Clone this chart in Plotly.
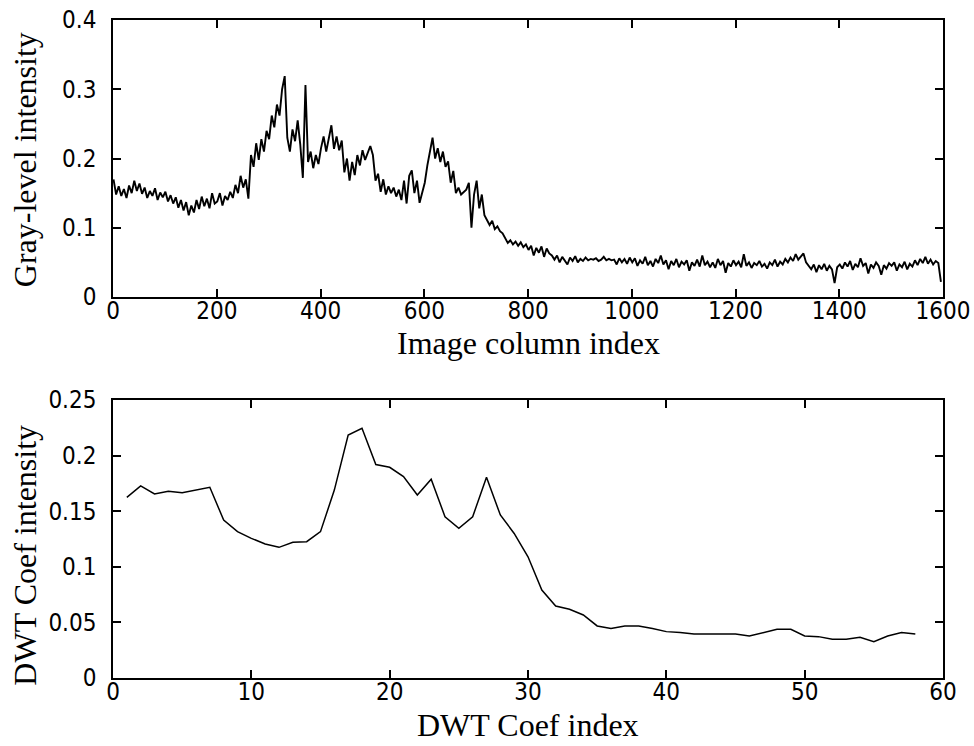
import plotly.graph_objects as go

# ---------------- data ----------------
col_index = list(range(1, 1601, 5))
gray_level = [
    0.170, 0.148, 0.160, 0.146, 0.156, 0.143, 0.161, 0.150, 0.168, 0.153, 0.164, 0.149, 0.158, 0.143, 0.153, 0.146, 0.157, 0.140, 0.151, 0.144,
    0.152, 0.138, 0.147, 0.135, 0.144, 0.129, 0.140, 0.125, 0.137, 0.118, 0.132, 0.122, 0.140, 0.127, 0.145, 0.131, 0.142, 0.128, 0.150, 0.135,
    0.138, 0.150, 0.132, 0.146, 0.140, 0.152, 0.143, 0.162, 0.150, 0.175, 0.158, 0.170, 0.142, 0.205, 0.188, 0.222, 0.198, 0.228, 0.210, 0.240,
    0.228, 0.262, 0.245, 0.278, 0.262, 0.300, 0.319, 0.230, 0.210, 0.242, 0.225, 0.255, 0.220, 0.172, 0.306, 0.195, 0.210, 0.186, 0.205, 0.192,
    0.215, 0.232, 0.210, 0.228, 0.248, 0.214, 0.232, 0.212, 0.226, 0.180, 0.200, 0.168, 0.195, 0.176, 0.205, 0.190, 0.212, 0.198, 0.208, 0.218,
    0.205, 0.168, 0.178, 0.152, 0.170, 0.148, 0.160, 0.150, 0.158, 0.145, 0.155, 0.140, 0.168, 0.135, 0.175, 0.183, 0.150, 0.168, 0.136, 0.152,
    0.165, 0.190, 0.212, 0.230, 0.200, 0.215, 0.195, 0.210, 0.188, 0.196, 0.165, 0.182, 0.150, 0.158, 0.148, 0.152, 0.155, 0.165, 0.100, 0.148,
    0.168, 0.128, 0.148, 0.118, 0.112, 0.104, 0.110, 0.098, 0.102, 0.095, 0.092, 0.084, 0.078, 0.082, 0.076, 0.080, 0.074, 0.079, 0.072, 0.076,
    0.068, 0.074, 0.060, 0.071, 0.064, 0.073, 0.058, 0.070, 0.063, 0.060, 0.054, 0.060, 0.050, 0.058, 0.053, 0.047, 0.057, 0.052, 0.059, 0.050,
    0.055, 0.052, 0.057, 0.053, 0.055, 0.054, 0.056, 0.052, 0.054, 0.058, 0.053, 0.055, 0.053, 0.054, 0.047, 0.056, 0.050, 0.055, 0.048, 0.057,
    0.050, 0.056, 0.045, 0.053, 0.048, 0.058, 0.046, 0.052, 0.044, 0.055, 0.049, 0.060, 0.047, 0.053, 0.040, 0.052, 0.046, 0.055, 0.043, 0.051,
    0.047, 0.053, 0.038, 0.050, 0.045, 0.054, 0.044, 0.060, 0.046, 0.051, 0.043, 0.050, 0.042, 0.055, 0.046, 0.052, 0.035, 0.049, 0.044, 0.053,
    0.046, 0.051, 0.043, 0.062, 0.045, 0.050, 0.042, 0.049, 0.046, 0.052, 0.044, 0.048, 0.041, 0.050, 0.046, 0.054, 0.044, 0.051, 0.047, 0.055,
    0.050, 0.057, 0.052, 0.062, 0.054, 0.058, 0.063, 0.050, 0.045, 0.040, 0.047, 0.036, 0.046, 0.040, 0.048, 0.038, 0.045, 0.040, 0.020, 0.043,
    0.047, 0.041, 0.050, 0.044, 0.052, 0.039, 0.048, 0.043, 0.056, 0.045, 0.049, 0.034, 0.047, 0.042, 0.050, 0.045, 0.032, 0.046, 0.041, 0.049,
    0.045, 0.050, 0.038, 0.047, 0.043, 0.051, 0.040, 0.048, 0.044, 0.053, 0.046, 0.055, 0.049, 0.058, 0.048, 0.054, 0.047, 0.052, 0.049, 0.022,
]

# Bottom panel: DWT coefficients
dwt_index = list(range(1, 59))
dwt_coef = [
    0.1625, 0.1727, 0.1655, 0.1680, 0.1667, 0.1690, 0.1715, 0.1420, 0.1316, 0.1256,
    0.1205, 0.1175, 0.1220, 0.1226, 0.1316, 0.1690, 0.2185, 0.2245, 0.1920, 0.1895,
    0.1811, 0.1646, 0.1787, 0.1450, 0.1346, 0.1450, 0.1805, 0.1466, 0.1300, 0.1090,
    0.0791, 0.0647, 0.0618, 0.0567, 0.0468, 0.0446, 0.0468, 0.0468, 0.0446, 0.0417,
    0.0410, 0.0396, 0.0396, 0.0396, 0.0396, 0.0378, 0.0408, 0.0438, 0.0438, 0.0378,
    0.0372, 0.0348, 0.0348, 0.0366, 0.0327, 0.0378, 0.0408, 0.0396,
]

top_xticks = [0, 200, 400, 600, 800, 1000, 1200, 1400, 1600]
top_yticks = [0, 0.1, 0.2, 0.3, 0.4]
top_ytext = ["0", "0.1", "0.2", "0.3", "0.4"]
bot_xticks = [0, 10, 20, 30, 40, 50, 60]
bot_yticks = [0, 0.05, 0.1, 0.15, 0.2, 0.25]
bot_ytext = ["0", "0.05", "0.1", "0.15", "0.2", "0.25"]

titles = {
    "top_x": "Image column index",
    "top_y": "Gray-level intensity",
    "bot_x": "DWT Coef index",
    "bot_y": "DWT Coef intensity",
}

# ---------------- figure ----------------
TICKFONT = dict(family="Liberation Sans Narrow, DejaVu Sans Condensed, Arial, sans-serif", size=24, color="black")
TITLEFONT = dict(family="Liberation Serif, Times New Roman, serif", size=32, color="black")

fig = go.Figure()
fig.add_trace(go.Scatter(x=col_index, y=gray_level, mode="lines",
                         line=dict(color="black", width=1.9), xaxis="x", yaxis="y", showlegend=False))
fig.add_trace(go.Scatter(x=dwt_index, y=dwt_coef, mode="lines",
                         line=dict(color="black", width=1.5), xaxis="x2", yaxis="y2", showlegend=False))

axis_common = dict(showline=True, linecolor="black", linewidth=1.5, mirror="ticks",
                   ticks="inside", ticklen=8, tickwidth=1.5, tickcolor="black",
                   showgrid=False, zeroline=False, tickfont=TICKFONT, automargin=False)

fig.update_layout(
    width=974, height=746,
    margin=dict(l=113, r=31, t=20, b=68),
    paper_bgcolor="white", plot_bgcolor="white",
    xaxis=dict(domain=[0, 1], anchor="y", range=[0, 1600], tickvals=top_xticks,
               ticklabelstandoff=-9, **axis_common),
    yaxis=dict(domain=[0.579, 1], anchor="x", range=[0, 0.4], tickvals=top_yticks, ticktext=top_ytext,
               ticklabelstandoff=10, **axis_common),
    xaxis2=dict(domain=[0, 1], anchor="y2", range=[0, 60], tickvals=bot_xticks,
                ticklabelstandoff=-9, **axis_common),
    yaxis2=dict(domain=[0, 0.4225], anchor="x2", range=[0, 0.25], tickvals=bot_yticks, ticktext=bot_ytext,
                ticklabelstandoff=10, **axis_common),
    annotations=[
        dict(text=titles["top_x"], xref="paper", yref="paper", x=0.5, y=0.509,
             xanchor="center", yanchor="middle", showarrow=False, font=TITLEFONT),
        dict(text=titles["bot_x"], xref="paper", yref="paper", x=0.5, y=-0.071,
             xanchor="center", yanchor="middle", showarrow=False, font=TITLEFONT),
        dict(text=titles["top_y"], xref="paper", yref="paper", x=-0.106, y=0.787, textangle=-90,
             xanchor="center", yanchor="middle", showarrow=False, font=TITLEFONT),
        dict(text=titles["bot_y"], xref="paper", yref="paper", x=-0.106, y=0.186, textangle=-90,
             xanchor="center", yanchor="middle", showarrow=False, font=TITLEFONT),
    ],
)

fig.write_html("out.html")
